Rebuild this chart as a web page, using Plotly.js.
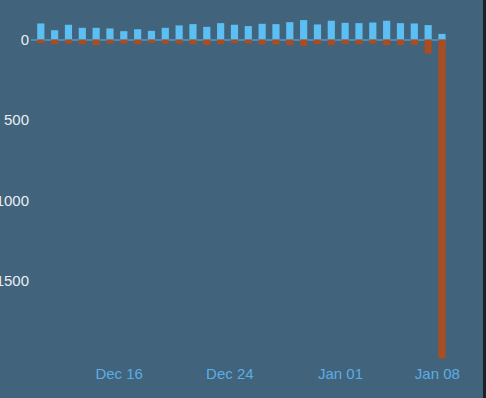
<!DOCTYPE html>
<html>
<head>
<meta charset="utf-8">
<script src="https://cdn.plot.ly/plotly-3.0.1.min.js"></script>
<style>
  html, body { margin: 0; padding: 0; background: #1c2228; overflow: hidden; }
  #chart { width: 483px; height: 398px; }
</style>
</head>
<body>
<div id="chart"></div>
<script>
var dates = ['2021-12-10','2021-12-11','2021-12-12','2021-12-13','2021-12-14','2021-12-15',
  '2021-12-16','2021-12-17','2021-12-18','2021-12-19','2021-12-20','2021-12-21','2021-12-22',
  '2021-12-23','2021-12-24','2021-12-25','2021-12-26','2021-12-27','2021-12-28','2021-12-29',
  '2021-12-30','2021-12-31','2022-01-01','2022-01-02','2022-01-03','2022-01-04','2022-01-05',
  '2022-01-06','2022-01-07','2022-01-08'];
var positiveValues = [100,58,92,73,73,69,52,64,54,73,88,96,79,102,92,84,98,96,108,121,94,117,104,102,106,117,102,100,90,35];
var negativeValues = [-23,-29,-25,-29,-35,-25,-25,-29,-21,-25,-25,-29,-35,-29,-21,-25,-31,-31,-35,-40,-29,-35,-27,-29,-25,-35,-35,-33,-88,-1985];
var tickDates = ['2021-12-16','2021-12-24','2022-01-01','2022-01-08'];
var tickLabels = ['Dec 16','Dec 24','Jan 01','Jan 08'];
var yTickValues = [0, -500, -1000, -1500];
var yTickLabels = ['0', '500', '1000', '1500'];

var xs = dates.map(function(d){ return d + ' 08:00'; });
var barW = 0.52 * 86400000;

var traces = [
  { type: 'bar', x: xs, y: positiveValues, width: barW,
    marker: { color: '#5cbff3', line: { width: 0 } }, hoverinfo: 'x+y' },
  { type: 'bar', x: xs, y: negativeValues, width: barW,
    marker: { color: '#a94d22', line: { width: 0 } }, hoverinfo: 'x+y' }
];

var layout = {
  width: 483, height: 398,
  margin: { l: 31, r: 37, t: 18, b: 38, pad: 0 },
  paper_bgcolor: '#41637c',
  plot_bgcolor: '#41637c',
  barmode: 'relative',
  showlegend: false,
  font: { family: 'Arial, "Liberation Sans", sans-serif', size: 15 },
  xaxis: {
    type: 'date',
    range: ['2021-12-09 15:00', '2022-01-08 15:00'],
    tickmode: 'array', tickvals: tickDates, ticktext: tickLabels,
    showgrid: false, zeroline: false, showline: false, ticks: '',
    ticklabelstandoff: 3,
    tickfont: { color: '#5dade2', size: 15 }
  },
  yaxis: {
    range: [-1994, 134],
    tickmode: 'array', tickvals: yTickValues, ticktext: yTickLabels,
    showgrid: false, zeroline: true, zerolinecolor: '#4b8bb6', zerolinewidth: 2,
    showline: false, ticks: '',
    ticklabelstandoff: 1,
    tickfont: { color: '#e8eef2', size: 15 }
  }
};

Plotly.newPlot('chart', traces, layout, { displayModeBar: false, staticPlot: true });
</script>
</body>
</html>
